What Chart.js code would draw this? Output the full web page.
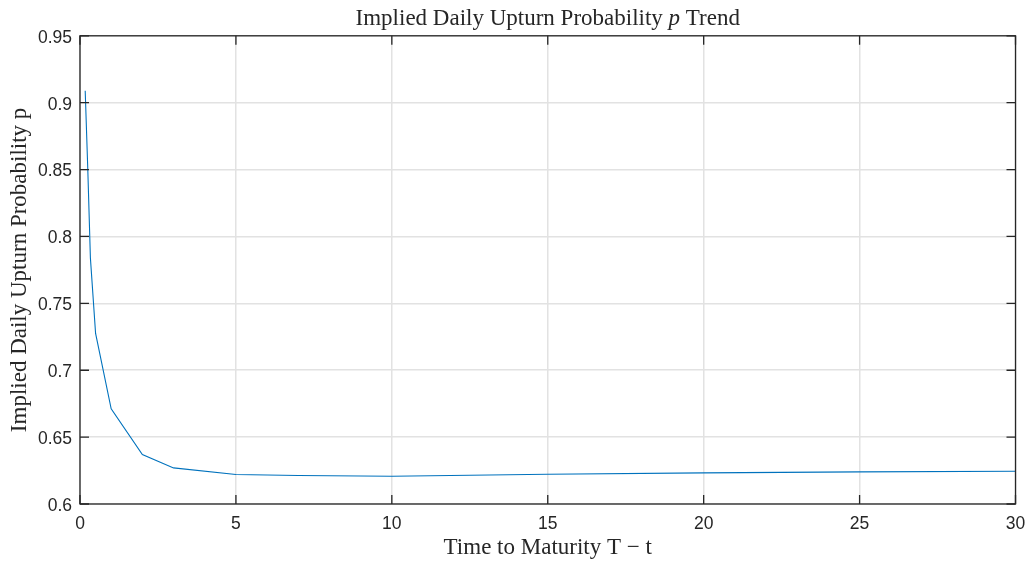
<!DOCTYPE html>
<html>
<head>
<meta charset="utf-8">
<script src="https://cdn.jsdelivr.net/npm/chart.js@4/dist/chart.umd.min.js"></script>
<style>
  html, body { margin: 0; padding: 0; background: #ffffff; }
  #wrap { width: 1032px; height: 562px; }
</style>
</head>
<body>
<div id="wrap"><canvas id="c" width="1032" height="562"></canvas></div>
<script>
// Data
const maturities = [0.1667, 0.25, 0.3333, 0.5, 1, 2, 3, 5, 7, 10, 15, 20, 25, 30];
const probabilities = [0.909, 0.85, 0.784, 0.7275, 0.6712, 0.637, 0.627, 0.622, 0.6213, 0.6207, 0.6222, 0.6233, 0.624, 0.6245];
const xTicks = [0, 5, 10, 15, 20, 25, 30];
const yTicks = [0.6, 0.65, 0.7, 0.75, 0.8, 0.85, 0.9, 0.95];
// title pieces: [text, italic]
const titleParts = [['Implied Daily Upturn Probability ', false], ['p', true], [' Trend', false]];
const xLabel = 'Time to Maturity T \u2212 t';
const yLabel = 'Implied Daily Upturn Probability p';

const axisColor = '#262626';
const serif = "'Liberation Serif', 'Times New Roman', serif";
const sans = "'Liberation Sans', Arial, Helvetica, sans-serif";

const boxTicks = {
  id: 'boxTicks',
  afterDatasetsDraw(chart) {
    const { ctx, chartArea: a, scales } = chart;
    ctx.save();
    ctx.strokeStyle = axisColor;
    ctx.lineWidth = 1.3;
    ctx.strokeRect(a.left, a.top, a.right - a.left, a.bottom - a.top);
    const L = 9;
    ctx.beginPath();
    xTicks.forEach(v => {
      const x = scales.x.getPixelForValue(v);
      ctx.moveTo(x, a.bottom); ctx.lineTo(x, a.bottom - L);
      ctx.moveTo(x, a.top); ctx.lineTo(x, a.top + L);
    });
    yTicks.forEach(v => {
      const y = scales.y.getPixelForValue(v);
      ctx.moveTo(a.left, y); ctx.lineTo(a.left + L, y);
      ctx.moveTo(a.right, y); ctx.lineTo(a.right - L, y);
    });
    ctx.stroke();
    ctx.restore();
  }
};

// Title centred over the plot area (as in the reference), with italic p
const axesTitle = {
  id: 'axesTitle',
  afterDraw(chart) {
    const { ctx, chartArea: a } = chart;
    ctx.save();
    ctx.fillStyle = axisColor;
    ctx.textBaseline = 'middle';
    ctx.textAlign = 'left';
    const fontFor = it => (it ? 'italic ' : '') + '23px ' + serif;
    let total = 0;
    titleParts.forEach(([t, it]) => { ctx.font = fontFor(it); total += ctx.measureText(t).width; });
    let x = (a.left + a.right) / 2 - total / 2;
    const y = a.top - 17;
    titleParts.forEach(([t, it]) => {
      ctx.font = fontFor(it);
      ctx.fillText(t, x, y);
      x += ctx.measureText(t).width;
    });
    ctx.restore();
  }
};

new Chart(document.getElementById('c'), {
  type: 'line',
  data: {
    datasets: [{
      data: maturities.map((t, i) => ({ x: t, y: probabilities[i] })),
      borderColor: '#0072BD',
      borderWidth: 1.1,
      pointRadius: 0,
      tension: 0,
      fill: false
    }]
  },
  options: {
    responsive: false,
    animation: false,
    layout: { padding: { right: 16.5, left: 0, top: 35.8, bottom: 0 } },
    plugins: {
      legend: { display: false },
      tooltip: { enabled: false },
      title: { display: false }
    },
    scales: {
      x: {
        type: 'linear',
        min: 0, max: 30,
        afterBuildTicks: s => { s.ticks = xTicks.map(v => ({ value: v })); },
        afterFit: s => { s.height = 58; s.paddingLeft = 0; s.paddingRight = 0; },
        grid: { color: '#e2e2e2', lineWidth: 1.5, drawTicks: false },
        border: { display: false },
        ticks: { color: axisColor, font: { family: sans, size: 17.5 }, padding: 10 },
        title: {
          display: true, text: xLabel, color: axisColor,
          font: { family: serif, size: 23, weight: 'normal' },
          padding: { top: 2, bottom: 0 }
        }
      },
      y: {
        type: 'linear',
        min: 0.6, max: 0.95,
        afterBuildTicks: s => { s.ticks = yTicks.map(v => ({ value: v })); },
        afterFit: s => { s.width = 80; s.paddingTop = 0; s.paddingBottom = 0; },
        grid: { color: '#e2e2e2', lineWidth: 1.5, drawTicks: false },
        border: { display: false },
        ticks: {
          color: axisColor, font: { family: sans, size: 17.5 }, padding: 8, labelOffset: 2,
          callback: v => String(+v.toFixed(2))
        },
        title: {
          display: true, text: yLabel, color: axisColor,
          font: { family: serif, size: 23, weight: 'normal' },
          padding: { top: 6, bottom: 0 }
        }
      }
    }
  },
  plugins: [boxTicks, axesTitle]
});
</script>
</body>
</html>
